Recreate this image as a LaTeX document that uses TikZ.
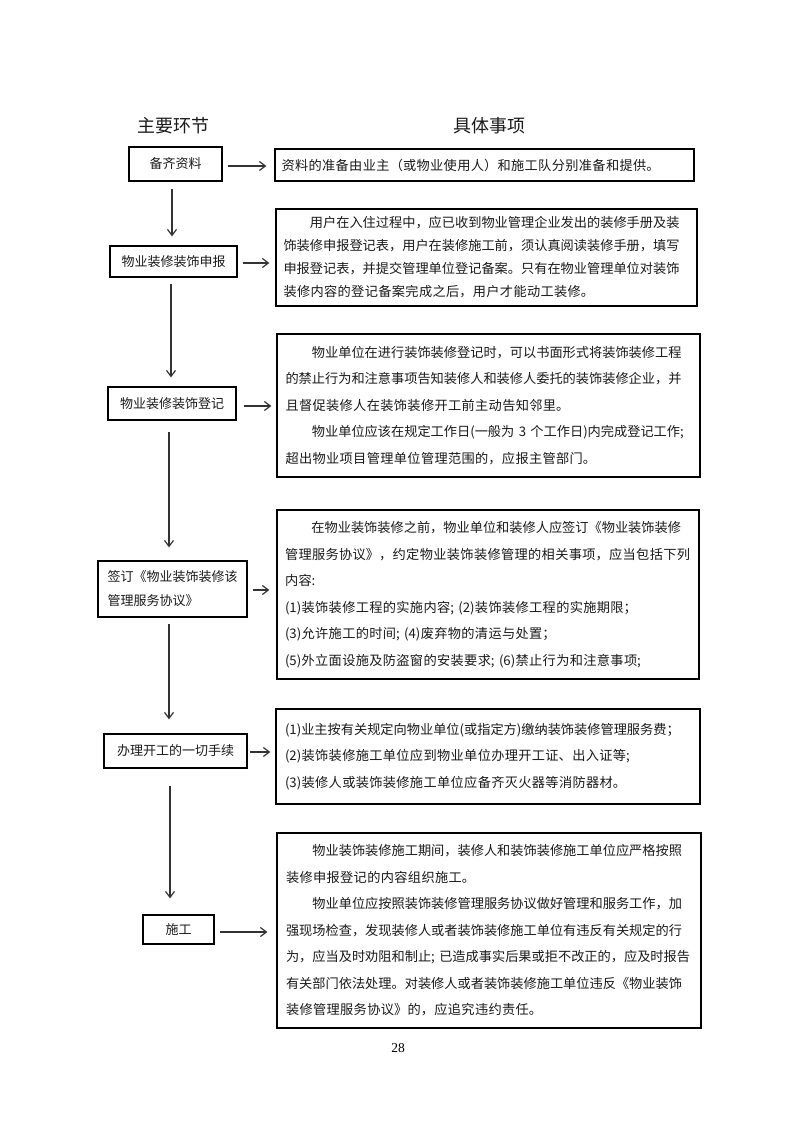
\documentclass[tikz,border=0pt]{standalone}
\usepackage{fontspec}
\newfontfamily\cjk{Noto Sans CJK SC}
\newfontfamily\numfont{Liberation Serif}
\usetikzlibrary{arrows.meta}
\XeTeXlinebreaklocale "zh"
\XeTeXlinebreakskip=0.35pt plus 3pt minus 0.35pt
\newlength\tw
\setlength\tw{406pt}
\newcommand\jl[1]{\leavevmode\hbox to \tw{#1}}
\newcommand\ind{\hskip2em}
\definecolor{txt}{HTML}{1A1A1A}
\definecolor{ln}{HTML}{333333}
\tikzset{
  lbox/.style={draw=black, line width=1.2pt, inner sep=0pt, align=left, text=txt,
    font=\cjk\fontsize{13}{24}\selectfont},
  rbox/.style={draw=black, line width=1.2pt, inner sep=0pt, text width=406pt, align=left, text=txt,
    font=\cjk\fontsize{13.2}{26.5}\selectfont},
  head/.style={inner sep=0pt, text=txt, font=\cjk\fontsize{18}{20}\selectfont},
  conn/.style={draw=ln, line width=1.2pt, -{Straight Barb[length=6pt,width=9pt]}}
}
\begin{document}
\begin{tikzpicture}[x=1pt,y=-1pt]
\useasboundingbox[fill=white] (0,0) rectangle (794,1123);

\node[head] (h1) at (173.5,126) {主要环节};
\node[head] (h2) at (489,126) {具体事项};

% left column
\node[lbox, minimum width=93pt, minimum height=34pt] (L1) at (175.5,164) {备齐资料};
\node[lbox, minimum width=127pt, minimum height=31pt] (L2) at (173.5,261.5) {物业装修装饰申报};
\node[lbox, minimum width=128pt, minimum height=33pt] (L3) at (172,403.5) {物业装修装饰登记};
\node[lbox, minimum width=149pt, minimum height=56pt] (L4) at (172.5,589) {签订《物业装饰装修该\\管理服务协议》};
\node[lbox, minimum width=143pt, minimum height=34pt] (L5) at (175.5,751) {办理开工的一切手续};
\node[lbox, minimum width=71pt, minimum height=29pt] (L6) at (178.5,929.5) {施工};

% right column
\node[rbox, minimum width=419pt, minimum height=32pt] (R1) at (484.5,165)
  {资料的准备由业主（或物业使用人）和施工队分别准备和提供。};

\node[rbox, minimum width=421pt, minimum height=97pt, font=\cjk\fontsize{13.2}{23}\selectfont] (R2) at (486.5,257.5)
  {\jl{\ind 用户在入住过程中，应已收到物业管理企业发出的装修手册及装}\\
   \jl{饰装修申报登记表，用户在装修施工前，须认真阅读装修手册，填写}\\
   \jl{申报登记表，并提交管理单位登记备案。只有在物业管理单位对装饰}\\
   装修内容的登记备案完成之后，用户才能动工装修。};

\node[rbox, minimum width=423pt, minimum height=143pt] (R3) at (488.5,405.5)
  {\jl{\ind 物业单位在进行装饰装修登记时，可以书面形式将装饰装修工程}\\
   \jl{的禁止行为和注意事项告知装修人和装修人委托的装饰装修企业，并}\\
   且督促装修人在装饰装修开工前主动告知邻里。\\
   \jl{\ind 物业单位应该在规定工作日(一般为 3 个工作日)内完成登记工作;}\\
   超出物业项目管理单位管理范围的，应报主管部门。};

\node[rbox, minimum width=422pt, minimum height=169pt] (R4) at (488,594.5)
  {\jl{\ind 在物业装饰装修之前，物业单位和装修人应签订《物业装饰装修}\\
   管理服务协议》，约定物业装饰装修管理的相关事项，应当包括下列\\
   内容:\\
   (1)装饰装修工程的实施内容; (2)装饰装修工程的实施期限；\\
   (3)允许施工的时间; (4)废弃物的清运与处置；\\
   (5)外立面设施及防盗窗的安装要求; (6)禁止行为和注意事项;};

\node[rbox, minimum width=424pt, minimum height=95pt] (R5) at (488,756.5)
  {\jl{(1)业主按有关规定向物业单位(或指定方)缴纳装饰装修管理服务费；}\\
   (2)装饰装修施工单位应到物业单位办理开工证、出入证等;\\
   (3)装修人或装饰装修施工单位应备齐灭火器等消防器材。};

\node[rbox, minimum width=424pt, minimum height=195pt] (R6) at (489,930.5)
  {\jl{\ind 物业装饰装修施工期间，装修人和装饰装修施工单位应严格按照}\\
   装修申报登记的内容组织施工。\\
   \jl{\ind 物业单位应按照装饰装修管理服务协议做好管理和服务工作，加}\\
   \jl{强现场检查，发现装修人或者装饰装修施工单位有违反有关规定的行}\\
   \jl{为，应当及时劝阻和制止; 已造成事实后果或拒不改正的，应及时报告}\\
   \jl{有关部门依法处理。对装修人或者装饰装修施工单位违反《物业装饰}\\
   装修管理服务协议》的，应追究违约责任。};

% horizontal arrows
\draw[conn, shorten <=5pt, shorten >=8pt] ([yshift=-2pt]L1.east) -- ([yshift=-2pt]L1.east -| R1.west);
\draw[conn, shorten <=5pt, shorten >=6pt] ([yshift=-1.5pt]L2.east) -- ([yshift=-1.5pt]L2.east -| R2.west);
\draw[conn, shorten <=7pt, shorten >=5pt] ([yshift=-2.5pt]L3.east) -- ([yshift=-2.5pt]L3.east -| R3.west);
\draw[conn, shorten <=5pt, shorten >=7pt] ([yshift=-1pt]L4.east) -- ([yshift=-1pt]L4.east -| R4.west);
\draw[conn, shorten <=2pt, shorten >=5pt] ([yshift=-1pt]L5.east) -- ([yshift=-1pt]L5.east -| R5.west);
\draw[conn, shorten <=5pt, shorten >=9pt] ([yshift=-2.5pt]L6.east) -- ([yshift=-2.5pt]L6.east -| R6.west);

% vertical arrows
\draw[conn, shorten <=7pt, shorten >=9pt] ([xshift=-3.5pt]L1.south) -- ([xshift=-3.5pt]L1.south |- L2.north);
\draw[conn, shorten <=6pt, shorten >=9pt] ([xshift=-2.5pt]L2.south) -- ([xshift=-2.5pt]L2.south |- L3.north);
\draw[conn, shorten <=11pt, shorten >=13pt] ([xshift=-3pt]L3.south) -- ([xshift=-3pt]L3.south |- L4.north);
\draw[conn, shorten <=6pt, shorten >=14pt] ([xshift=-3.5pt]L4.south) -- ([xshift=-3.5pt]L4.south |- L5.north);
\draw[conn, shorten <=17pt, shorten >=16pt] ([xshift=-5.5pt]L5.south) -- ([xshift=-5.5pt]L5.south |- L6.north);

\node[inner sep=0pt, font=\numfont\fontsize{13.5}{15}\selectfont] (pg) at (398,1048) {28};
\end{tikzpicture}
\end{document}
